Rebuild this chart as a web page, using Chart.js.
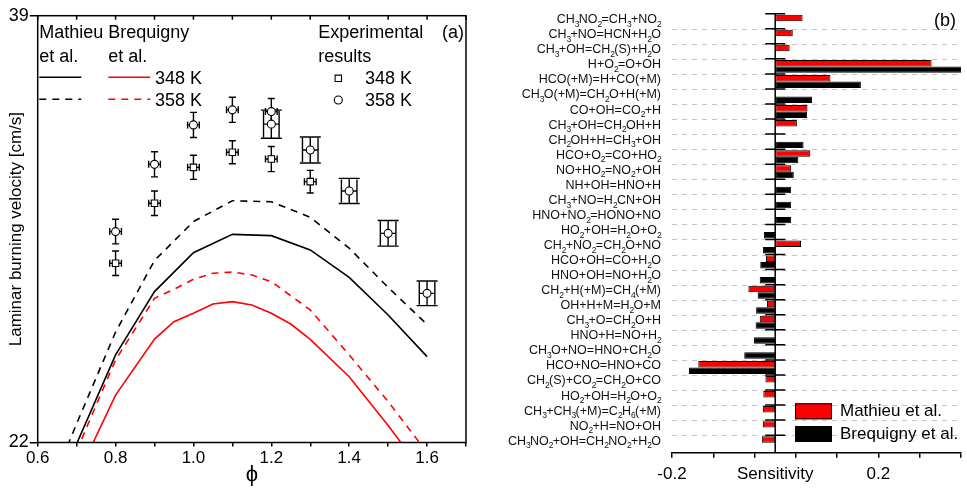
<!DOCTYPE html>
<html><head><meta charset="utf-8">
<script src="https://cdn.jsdelivr.net/npm/chart.js@4"></script>
<style>
html,body{margin:0;padding:0;background:#fff;}
#wrap{position:relative;width:967px;height:488px;overflow:hidden;background:#fff;}
#c1{position:absolute;left:0;top:0;}
#c2{position:absolute;left:490px;top:0;}
</style></head><body>
<div id="wrap"><canvas id="c1" width="480" height="488"></canvas><canvas id="c2" width="477" height="488"></canvas></div>
<script>
// ---------- (a) burning velocity data ----------
const phiMathieu = [0.6, 0.7, 0.8, 0.9, 1.0, 1.1, 1.2, 1.3, 1.4, 1.5, 1.6];
const suMathieu348 = [18.5, 21.95, 25.49, 28.01, 29.56, 30.29, 30.24, 29.67, 28.58, 27.08, 25.42];
const suMathieu358 = [19.0, 22.75, 26.40, 29.25, 30.80, 31.63, 31.59, 30.97, 29.74, 28.18, 26.70];
const phiBreq348 = [0.7, 0.8, 0.9, 0.95, 1.0, 1.05, 1.1, 1.15, 1.2, 1.25, 1.3, 1.4, 1.5, 1.6];
const suBreq348 = [20.6, 23.89, 26.12, 26.81, 27.15, 27.52, 27.61, 27.48, 27.15, 26.72, 26.11, 24.62, 22.68, 20.6];
const phiBreq358 = [0.7, 0.8, 0.9, 0.95, 1.0, 1.05, 1.1, 1.15, 1.2, 1.3, 1.4, 1.5, 1.6];
const suBreq358 = [21.67, 25.29, 27.74, 28.10, 28.50, 28.74, 28.79, 28.67, 28.41, 27.28, 25.49, 23.63, 21.60];

const phiExp348 = [0.8, 0.9, 1.0, 1.1, 1.2, 1.3];
const suExp348 = [29.14, 31.53, 32.96, 33.56, 33.29, 32.39];
const errExp348 = [0.49, 0.49, 0.48, 0.46, 0.50, 0.45];
const phiErrExp348 = [0.015, 0.015, 0.015, 0.015, 0.015, 0.015];
const phiExp358a = [0.8, 0.9, 1.0, 1.1, 1.2];
const suExp358a = [30.40, 33.08, 34.65, 35.25, 35.18];
const errExp358a = [0.49, 0.50, 0.50, 0.50, 0.52];
const phiErrExp358a = [0.015, 0.015, 0.015, 0.015, 0.015];
const phiExp358b = [1.2, 1.3, 1.4, 1.5, 1.6];
const suExp358b = [34.68, 33.65, 32.02, 30.33, 27.94];
const errExp358b = [0.56, 0.52, 0.50, 0.51, 0.49];
const phiErrExp358b = [0.02, 0.02, 0.02, 0.02, 0.02];

const xMin = 0.6, xMax = 1.7, xStep = 0.1;
const yTickValues = [22, 39];
const legendHeads = [['Mathieu', 'et al.'], ['Brequigny', 'et al.'], ['Experimental', 'results']];
const legendTemps = ['348 K', '358 K'];

// ---------- (b) sensitivity data ----------
const reactions = ["CH3NO2=CH3+NO2","CH3+NO=HCN+H2O","CH3+OH=CH2(S)+H2O","H+O2=O+OH","HCO(+M)=H+CO(+M)","CH3O(+M)=CH2O+H(+M)","CO+OH=CO2+H","CH3+OH=CH2OH+H","CH2OH+H=CH3+OH","HCO+O2=CO+HO2","NO+HO2=NO2+OH","NH+OH=HNO+H","CH3+NO=H2CN+OH","HNO+NO2=HONO+NO","HO2+OH=H2O+O2","CH2+NO2=CH2O+NO","HCO+OH=CO+H2O","HNO+OH=NO+H2O","CH2+H(+M)=CH4(+M)","OH+H+M=H2O+M","CH3+O=CH2O+H","HNO+H=NO+H2","CH3O+NO=HNO+CH2O","HCO+NO=HNO+CO","CH2(S)+CO2=CH2O+CO","HO2+OH=H2O+O2","CH3+CH3(+M)=C2H6(+M)","NO2+H=NO+OH","CH3NO2+OH=CH2NO2+H2O"];
const sensMathieu = [0.053, 0.034, 0.028, 0.303, 0.107, null, 0.0626, 0.042, null, 0.068, 0.031, null, null, null, null, 0.050, -0.018, null, -0.052, -0.016, -0.030, null, null, -0.149, -0.019, -0.023, -0.024, -0.024, -0.026];
const sensBrequigny = [null, null, null, 0.362, 0.166, 0.0716, 0.062, null, 0.055, 0.045, 0.036, 0.031, 0.031, 0.031, -0.022, -0.024, -0.029, -0.030, -0.034, -0.037, -0.038, -0.041, -0.060, -0.167, null, null, null, null, null];
const sensMin = -0.2, sensMax = 0.36, sensStep = 0.08;
const sensLabelled = [-0.2, 0.2];

const FONT = '"Liberation Sans", Arial, Helvetica, sans-serif';
Chart.defaults.font.family = FONT;
Chart.defaults.color = '#000';

const pts = (xs, ys) => xs.map((v, i) => ({x: v, y: ys[i]}));

// error bars for (a)
const errorBars = {
  id: 'errorBars',
  beforeDatasetsDraw(chart) {
    const {ctx, scales: {x, y}} = chart;
    ctx.save();
    ctx.strokeStyle = '#000';
    ctx.lineWidth = 1.4;
    chart.data.datasets.forEach(ds => {
      if (!ds.yErr) return;
      ds.data.forEach((p, i) => {
        const px = x.getPixelForValue(p.x), py = y.getPixelForValue(p.y);
        const yt = y.getPixelForValue(p.y + ds.yErr[i]), yb = y.getPixelForValue(p.y - ds.yErr[i]);
        const xl = x.getPixelForValue(p.x - ds.xErr[i]), xr = x.getPixelForValue(p.x + ds.xErr[i]);
        const cw = ds.capHalf;
        const ch = ds.sideFull ? (yb - yt) / 2 - 1 : ds.sideHalf;
        ctx.beginPath();
        ctx.moveTo(px, yt); ctx.lineTo(px, yb);
        ctx.moveTo(px - cw, yt); ctx.lineTo(px + cw, yt);
        ctx.moveTo(px - cw, yb); ctx.lineTo(px + cw, yb);
        ctx.moveTo(xl, py); ctx.lineTo(xr, py);
        ctx.moveTo(xl, py - ch); ctx.lineTo(xl, py + ch);
        ctx.moveTo(xr, py - ch); ctx.lineTo(xr, py + ch);
        ctx.stroke();
      });
    });
    ctx.restore();
  }
};

const frameLeft = {
  id: 'frameLeft',
  afterDraw(chart) {
    const {ctx, chartArea: a, scales: {x}} = chart;
    const ds = chart.data.datasets;
    ctx.save();
    ctx.strokeStyle = '#000';
    ctx.lineWidth = 1.5;
    ctx.strokeRect(a.left, a.top, a.right - a.left, a.bottom - a.top);
    ctx.beginPath();
    x.ticks.forEach(t => { const px = x.getPixelForValue(t.value); ctx.moveTo(px, a.top); ctx.lineTo(px, a.top + 4); });
    ctx.stroke();
    // legend
    const L = a.left, T = a.top;
    ctx.fillStyle = '#000';
    ctx.font = '18px ' + FONT;
    ctx.textBaseline = 'middle';
    ctx.textAlign = 'left';
    const cols = [L + 1.6, L + 70.6, L + 280.6];
    legendHeads.forEach((h, c) => { ctx.fillText(h[0], cols[c], T + 17); ctx.fillText(h[1], cols[c], T + 41); });
    const rows = [T + 61.6, T + 83.6];
    [[0, 0, 0], [1, 0, 1], [2, 1, 0], [3, 1, 1]].forEach(([d, c, r]) => {
      ctx.save();
      ctx.strokeStyle = ds[d].borderColor;
      ctx.lineWidth = ds[d].borderWidth;
      ctx.setLineDash(ds[d].borderDash || []);
      ctx.beginPath(); ctx.moveTo(cols[c], rows[r]); ctx.lineTo(cols[c] + 42, rows[r]); ctx.stroke();
      ctx.restore();
    });
    legendTemps.forEach((t, r) => ctx.fillText(t, L + 117.3, rows[r] + 1.5));
    // markers
    ctx.lineWidth = 1.1;
    ctx.fillStyle = '#fff';
    ctx.strokeStyle = '#000';
    const mx = L + 300.6;
    ctx.beginPath(); ctx.rect(mx - 3.2, rows[0] + 1 - 3.2, 6.4, 6.4); ctx.fill(); ctx.stroke();
    ctx.beginPath(); ctx.arc(mx, rows[1] + 0.7, 4, 0, Math.PI * 2); ctx.fill(); ctx.stroke();
    ctx.fillStyle = '#000';
    legendTemps.forEach((t, r) => ctx.fillText(t, L + 327.3, rows[r] + 1.5));
    ctx.textAlign = 'right';
    ctx.fillText('(a)', a.right - 2, T + 17);
    ctx.restore();
  }
};

new Chart(document.getElementById('c1'), {
  type: 'scatter',
  data: {
    datasets: [
      {label: 'Mathieu et al. 348 K', data: pts(phiMathieu, suMathieu348), showLine: true, borderColor: '#000', borderWidth: 1.6, pointRadius: 0},
      {label: 'Mathieu et al. 358 K', data: pts(phiMathieu, suMathieu358), showLine: true, borderColor: '#000', borderWidth: 1.6, borderDash: [7, 6], pointRadius: 0},
      {label: 'Brequigny et al. 348 K', data: pts(phiBreq348, suBreq348), showLine: true, borderColor: '#ff0000', borderWidth: 1.6, pointRadius: 0},
      {label: 'Brequigny et al. 358 K', data: pts(phiBreq358, suBreq358), showLine: true, borderColor: '#ff0000', borderWidth: 1.6, borderDash: [7, 6], pointRadius: 0},
      {label: 'Experimental 348 K', data: pts(phiExp348, suExp348), yErr: errExp348, xErr: phiErrExp348, capHalf: 3.5, sideHalf: 3.5,
        pointStyle: 'rect', pointRadius: 4.6, pointBackgroundColor: '#fff', pointBorderColor: '#000', pointBorderWidth: 1.1},
      {label: 'Experimental 358 K', data: pts(phiExp358a, suExp358a), yErr: errExp358a, xErr: phiErrExp358a, capHalf: 3.5, sideHalf: 3.5,
        pointStyle: 'circle', pointRadius: 4, pointBackgroundColor: '#fff', pointBorderColor: '#000', pointBorderWidth: 1.1},
      {label: 'Experimental 358 K (b)', data: pts(phiExp358b, suExp358b), yErr: errExp358b, xErr: phiErrExp358b, capHalf: 10.5, sideFull: true,
        pointStyle: 'circle', pointRadius: 4, pointBackgroundColor: '#fff', pointBorderColor: '#000', pointBorderWidth: 1.1}
    ]
  },
  options: {
    responsive: false,
    animation: false,
    layout: {padding: {top: 15.7, right: 14, left: 0, bottom: 0}},
    plugins: {legend: {display: false}, tooltip: {enabled: false}},
    scales: {
      x: {
        type: 'linear', min: xMin, max: xMax,
        border: {display: false},
        grid: {drawOnChartArea: false, tickLength: 4, color: '#000', lineWidth: 1.5},
        ticks: {stepSize: xStep, padding: 2, font: {size: 17}, maxRotation: 0, autoSkip: false,
          callback: v => { const k = Math.round(v * 10); return (k % 2 === 0) ? (k / 10).toFixed(1) : ''; }},
        title: {display: true, text: 'ϕ', font: {size: 22}, padding: {top: 0, bottom: 0}},
        afterFit: s => { s.height = 45.5; }
      },
      y: {
        type: 'linear', min: 22, max: 39,
        border: {display: false},
        grid: {drawOnChartArea: false, tickLength: 8, color: '#000', lineWidth: 1.5},
        ticks: {padding: 1, font: {size: 18}},
        afterBuildTicks: s => { s.ticks = yTickValues.map(v => ({value: v})); },
        title: {display: true, text: 'Laminar burning velocity [cm/s]', font: {size: 17}, padding: {top: 6, bottom: 0}},
        afterFit: s => { s.width = 37.7; }
      }
    }
  },
  plugins: [errorBars, frameLeft]
});

// ---------- (b) ----------
function drawChem(ctx, text, xRight, yMid, size, subSize) {
  const runs = [];
  let cur = '', curSub = false;
  for (const ch of text) {
    const s = /[0-9]/.test(ch);
    if (cur && s !== curSub) { runs.push([cur, curSub]); cur = ''; }
    curSub = s; cur += ch;
  }
  if (cur) runs.push([cur, curSub]);
  const fMain = size + 'px ' + FONT, fSub = subSize + 'px ' + FONT;
  const adv = (t, s) => { ctx.font = s ? fSub : fMain; return ctx.measureText(t).width * (s ? 0.85 : 1); };
  let w = 0;
  runs.forEach(([t, s]) => { w += adv(t, s); });
  let x = xRight - w;
  const base = yMid + 0.36 * size;
  ctx.textBaseline = 'alphabetic';
  ctx.textAlign = 'left';
  runs.forEach(([t, s]) => {
    ctx.font = s ? fSub : fMain;
    ctx.fillText(t, x, s ? base + 0.3 * size : base);
    x += adv(t, s);
  });
}

const rightDecor = {
  id: 'rightDecor',
  beforeDatasetsDraw(chart) {
    const {ctx, chartArea: a, scales: {y}} = chart;
    ctx.save();
    ctx.strokeStyle = '#c4c4c4';
    ctx.lineWidth = 1;
    ctx.setLineDash([5, 5]);
    ctx.beginPath();
    for (let k = 1; k < reactions.length; k++) {
      const py = Math.round(y.getPixelForValue(k - 0.5)) + 0.5;
      ctx.moveTo(a.left, py); ctx.lineTo(a.right, py);
    }
    ctx.stroke();
    ctx.restore();
  },
  afterDatasetsDraw(chart) {
    const {ctx, chartArea: a, scales: {x, y}} = chart;
    const x0 = x.getPixelForValue(0);
    ctx.save();
    ctx.strokeStyle = '#000';
    ctx.lineWidth = 1.5;
    ctx.beginPath();
    ctx.moveTo(x0, a.top); ctx.lineTo(x0, a.bottom);
    for (let k = 0; k < reactions.length; k++) {
      const py = y.getPixelForValue(k - 0.5);
      ctx.moveTo(x0 - 10, py); ctx.lineTo(x0 + 10, py);
    }
    ctx.stroke();
    ctx.restore();
  },
  afterDraw(chart) {
    const {ctx, chartArea: a, scales: {x, y}} = chart;
    ctx.save();
    ctx.fillStyle = '#111';
    reactions.forEach((r, i) => drawChem(ctx, r, a.left - 11, y.getPixelForValue(i) - 2.5, 12.5, 8.5));
    ctx.fillStyle = '#000';
    ctx.font = '17px ' + FONT;
    ctx.textAlign = 'center';
    ctx.textBaseline = 'middle';
    ctx.fillText('Sensitivity', x.getPixelForValue(0), a.bottom + 21.5);
    ctx.font = '18px ' + FONT;
    ctx.textAlign = 'right';
    ctx.fillText('(b)', a.right - 5, a.top + 7);
    // legend
    const ds = chart.data.datasets;
    const bx = a.left + 123, bw = 37;
    const rowsY = [a.bottom - 49.4, a.bottom - 26.7];
    ctx.textAlign = 'left';
    ctx.font = '17px ' + FONT;
    ds.forEach((d, i) => {
      ctx.fillStyle = d.backgroundColor;
      ctx.fillRect(bx, rowsY[i], bw, 16);
      ctx.strokeStyle = '#000';
      ctx.lineWidth = 1;
      ctx.strokeRect(bx + 0.5, rowsY[i] + 0.5, bw - 1, 15);
      ctx.fillStyle = '#000';
      ctx.fillText(d.label, bx + 45, rowsY[i] + 8.5);
    });
    ctx.restore();
  }
};

new Chart(document.getElementById('c2'), {
  type: 'bar',
  data: {
    datasets: [
      {label: 'Mathieu et al.', data: sensMathieu.map((v, i) => ({x: v, y: i})), backgroundColor: '#ff0000', borderColor: '#000', borderWidth: 1, borderSkipped: false},
      {label: 'Brequigny et al.', data: sensBrequigny.map((v, i) => ({x: v, y: i})), backgroundColor: '#000', borderColor: '#000', borderWidth: 1, borderSkipped: false}
    ]
  },
  options: {
    indexAxis: 'y',
    responsive: false,
    animation: false,
    categoryPercentage: 0.86,
    barPercentage: 1.0,
    layout: {padding: {top: 13.7, right: 2, left: 182, bottom: 0}},
    plugins: {legend: {display: false}, tooltip: {enabled: false}},
    scales: {
      x: {
        type: 'linear', min: sensMin, max: sensMax,
        border: {display: true, color: '#000', width: 1.5},
        grid: {drawOnChartArea: false, tickLength: 5, color: '#000', lineWidth: 1.5},
        ticks: {stepSize: sensStep, padding: 6, font: {size: 17}, maxRotation: 0, autoSkip: false,
          callback: v => { const m = sensLabelled.find(s => Math.abs(s - v) < 1e-6); return m === undefined ? '' : m.toFixed(1); }},
        afterFit: s => { s.height = 35.3; }
      },
      y: {
        type: 'linear', offset: false, min: -0.5, max: reactions.length - 0.5 + 0.166, reverse: true, display: false,
        grid: {offset: false},
        afterBuildTicks: s => { s.ticks = reactions.map((r, i) => ({value: i})); }
      }
    }
  },
  plugins: [rightDecor]
});
</script>
</body></html>
